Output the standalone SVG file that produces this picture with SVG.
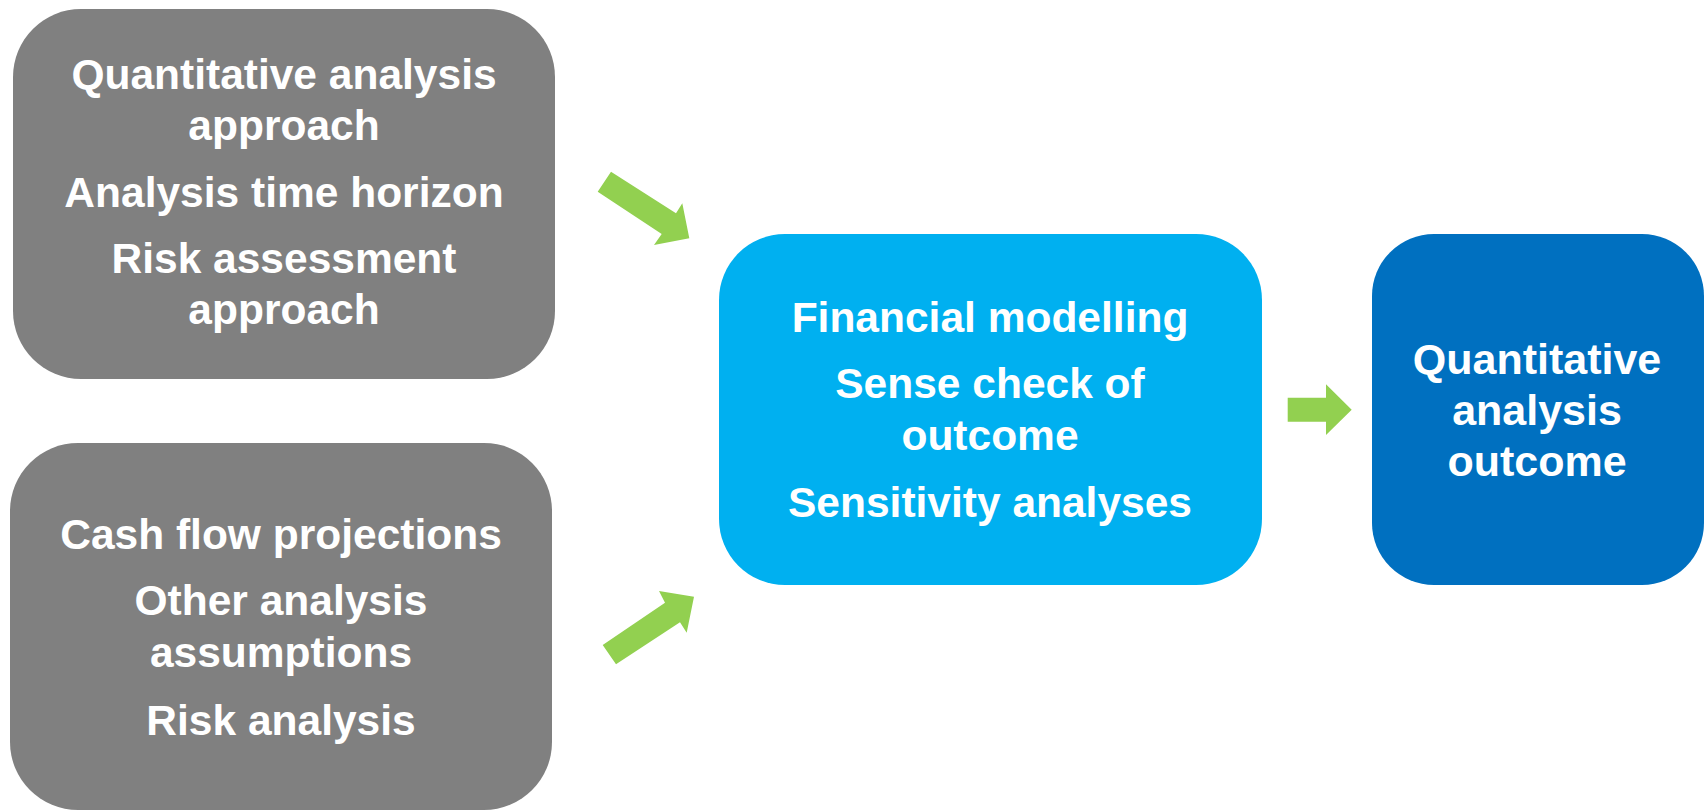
<svg xmlns="http://www.w3.org/2000/svg" width="1707" height="811" viewBox="0 0 1707 811">
  <style>
    .box-grey { fill: #808080; }
    .box-cyan { fill: #00B0F0; }
    .box-blue { fill: #0070C0; }
    .label { font-family: "Liberation Sans", Arial, sans-serif; font-weight: bold; font-size: 42.5px; fill: #FFFFFF; text-anchor: middle; }
    .label-lg { font-size: 43px; }
    .arrow { fill: #92D050; }
  </style>
  <rect width="1707" height="811" fill="#FFFFFF"/>

  <g id="inputs-approach">
    <rect class="box-grey" x="13" y="9" width="542" height="370" rx="68" ry="68"/>
    <text class="label" x="284" y="89">Quantitative analysis</text>
    <text class="label" x="284" y="140">approach</text>
    <text class="label" x="284" y="207">Analysis time horizon</text>
    <text class="label" x="284" y="273">Risk assessment</text>
    <text class="label" x="284" y="324">approach</text>
  </g>

  <g id="inputs-data">
    <rect class="box-grey" x="10" y="443" width="542" height="367" rx="68" ry="68"/>
    <text class="label" x="281" y="549">Cash flow projections</text>
    <text class="label" x="281" y="615">Other analysis</text>
    <text class="label" x="281" y="667">assumptions</text>
    <text class="label" x="281" y="735">Risk analysis</text>
  </g>

  <g id="modelling">
    <rect class="box-cyan" x="719" y="234" width="543" height="351" rx="66" ry="66"/>
    <text class="label" x="990" y="332">Financial modelling</text>
    <text class="label" x="990" y="398">Sense check of</text>
    <text class="label" x="990" y="450">outcome</text>
    <text class="label" x="990" y="517">Sensitivity analyses</text>
  </g>

  <g id="outcome">
    <rect class="box-blue" x="1372" y="234" width="332" height="351" rx="62" ry="62"/>
    <text class="label label-lg" x="1537" y="374">Quantitative</text>
    <text class="label label-lg" x="1537" y="425">analysis</text>
    <text class="label label-lg" x="1537" y="476">outcome</text>
  </g>

  <g id="connectors">
    <polygon class="arrow" points="611,171.7 676,213.3 682.3,203.3 689.3,238.3 654,245 661.7,234 597.7,191.7"/>
    <polygon class="arrow" points="616,664.3 602.7,645 665,602.7 659,591 694,596.7 686.7,632.7 680,622.3"/>
    <polygon class="arrow" points="1287.7,397.7 1326,397.7 1326,384.3 1351.7,409.7 1326,435 1326,421.7 1287.7,421.7"/>
  </g>
</svg>
